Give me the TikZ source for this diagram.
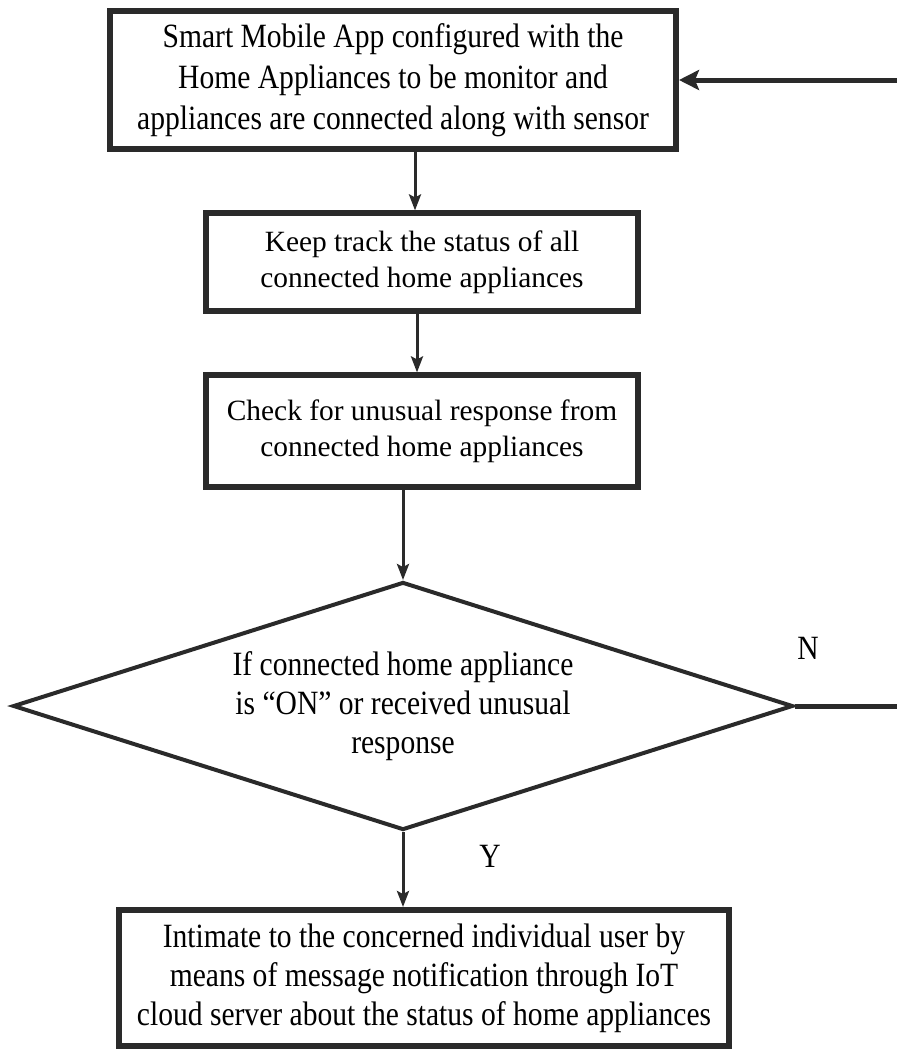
\documentclass[tikz,border=0pt]{standalone}
\usepackage{fontspec}
\setmainfont{Liberation Serif}
\newfontfamily\narrowserif[FakeStretch=0.87,Ligatures=TeX]{Liberation Serif}
\usetikzlibrary{shapes.geometric,arrows.meta}
\definecolor{ink}{HTML}{2A2A2A}

\begin{document}
\begin{tikzpicture}[x=.5pt,y=-.5pt,
   box/.style={draw=ink, line width=3pt, align=center, inner sep=0pt},
   midbox/.style={box, line width=2.6pt, font=\fontsize{14.7}{18}\selectfont},
   arr/.style={draw=ink, line width=1.5pt, -{Stealth[length=8pt,width=6pt,inset=1.5pt]}},
   txt/.style={font=\narrowserif\fontsize{17}{19}\selectfont}]
   \useasboundingbox (0,0) rectangle (897,1051);

   \node[box, txt, font=\narrowserif\fontsize{17}{20.5}\selectfont, minimum width=283pt, minimum height=69pt] (app) at (393,80)
   {Smart Mobile App configured with the\\ Home Appliances to be monitor and\\ appliances are connected along with sensor};
   \node[midbox, minimum width=216pt, minimum height=49pt] (track) at (422,262)
   {Keep track the status of all\\ connected home appliances};
   \node[midbox, minimum width=216pt, minimum height=56pt] (check) at (422,431)
   {Check for unusual response from\\ connected home appliances};
   \node[diamond, draw=ink, line width=2pt, align=center, inner sep=0pt, aspect=3.15,
      minimum width=390pt, minimum height=124pt, txt, font=\narrowserif\fontsize{17}{19.5}\selectfont] (dec) at (403,706)
   {If connected home appliance\\ is “ON” or received unusual\\ response};
   \node[box, txt, font=\narrowserif\fontsize{17}{19.5}\selectfont, minimum width=305pt, minimum height=68pt] (notify) at (424,978)
   {Intimate to the concerned individual user by\\ means of message notification through IoT\\ cloud server about the status of home appliances};

   \node[txt] (nlab) at (808,648) {N};
   \node[txt] (ylab) at (490,856) {Y};

   \draw[arr] ([xshift=11pt]app.south) -- ([xshift=11pt]app.south |- track.north);
   \draw[arr] ([xshift=-2.5pt]track.south) -- ([xshift=-2.5pt]check.north);
   \draw[arr] (check.south -| dec.north) -- (dec.north);
   \draw[arr] (dec.south) -- (dec.south |- notify.north);
   \draw[arr, line width=2.5pt, -{Stealth[length=10pt,width=10pt,inset=2pt]}] (dec.east) -- ++(120,0) |- (app.east);

\end{tikzpicture}
\end{document}
